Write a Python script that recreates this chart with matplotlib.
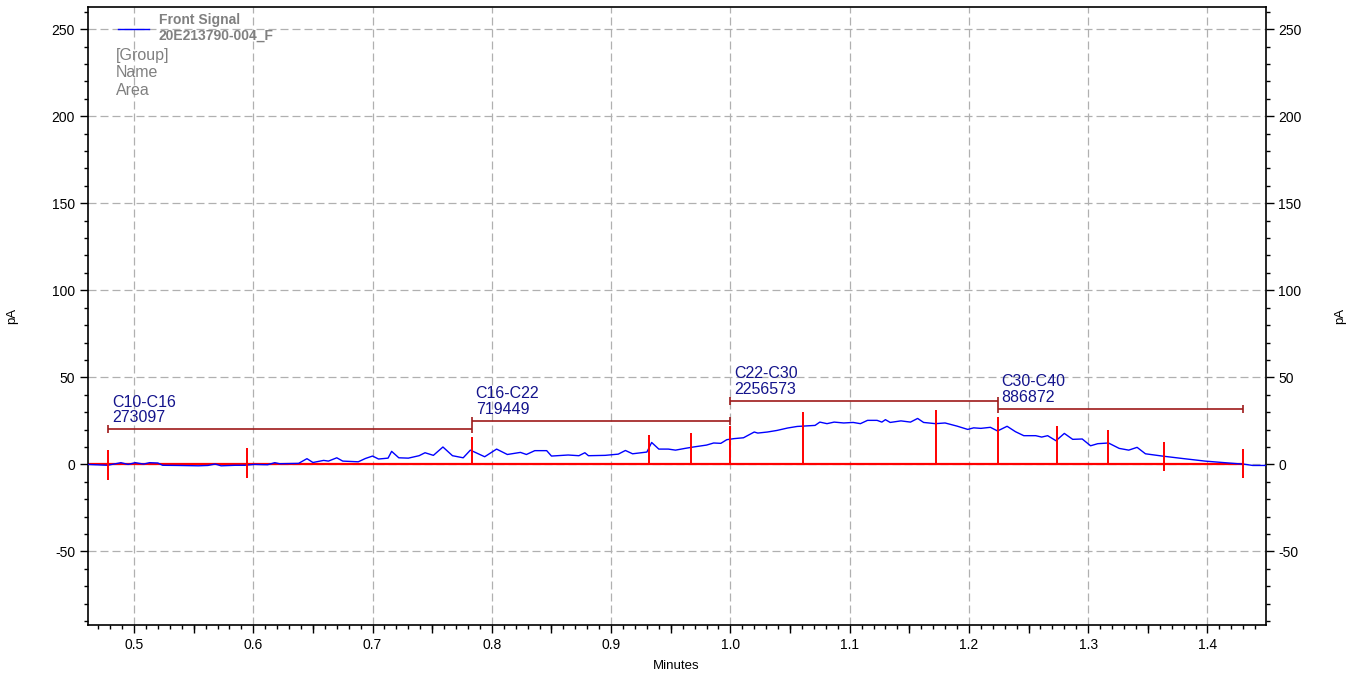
import matplotlib
matplotlib.use("Agg")
import matplotlib.pyplot as plt
import numpy as np
from matplotlib.ticker import MultipleLocator, FuncFormatter

plt.rcParams["font.family"] = ["Liberation Sans", "DejaVu Sans"]
plt.rcParams["axes.unicode_minus"] = False

# chromatogram trace (minutes, pA)
TRACE_T = [
    0.461, 0.478, 0.489, 0.495, 0.501, 0.508, 0.513, 0.520, 0.524, 0.537,
    0.554, 0.562, 0.568, 0.573, 0.585, 0.593, 0.601, 0.612, 0.618, 0.622,
    0.638, 0.645, 0.650, 0.659, 0.663, 0.670, 0.675, 0.688, 0.694, 0.700,
    0.705, 0.713, 0.716, 0.722, 0.730, 0.739, 0.744, 0.751, 0.759, 0.767,
    0.776, 0.782, 0.794, 0.804, 0.813, 0.824, 0.829, 0.836, 0.846, 0.850,
    0.864, 0.873, 0.878, 0.881, 0.895, 0.906, 0.912, 0.918, 0.930, 0.934,
    0.940, 0.948, 0.954, 0.962, 0.969, 0.980, 0.986, 0.992, 0.997, 1.003,
    1.011, 1.020, 1.023, 1.031, 1.039, 1.048, 1.056, 1.061, 1.071, 1.075,
    1.081, 1.087, 1.095, 1.103, 1.109, 1.115, 1.123, 1.127, 1.130, 1.134,
    1.143, 1.151, 1.157, 1.162, 1.172, 1.180, 1.190, 1.199, 1.204, 1.210,
    1.218, 1.224, 1.232, 1.239, 1.246, 1.256, 1.261, 1.266, 1.273, 1.280,
    1.287, 1.295, 1.302, 1.308, 1.317, 1.326, 1.334, 1.341, 1.348, 1.362,
    1.379, 1.398, 1.418, 1.431, 1.438, 1.450,
]
TRACE_PA = [
    0.0, -0.5, 1.0, 0.0, 1.0, 0.2, 1.0, 0.8, -0.5, -0.6,
    -0.8, -0.6, 0.2, -0.8, -0.5, -0.5, 0.0, -0.2, 1.0, 0.4,
    0.6, 3.3, 1.1, 2.3, 1.9, 3.8, 1.9, 1.5, 3.4, 4.8,
    3.1, 3.6, 7.5, 3.8, 3.6, 5.0, 6.7, 5.2, 10.0, 5.0,
    3.8, 8.2, 4.4, 8.8, 5.7, 6.9, 5.7, 7.9, 7.9, 4.8,
    5.4, 5.0, 6.7, 5.0, 5.2, 5.9, 8.0, 6.1, 7.1, 12.6,
    8.8, 8.8, 8.2, 9.2, 10.0, 11.1, 12.3, 12.1, 14.2, 14.8,
    15.3, 18.6, 18.0, 18.6, 19.5, 20.9, 21.8, 22.0, 22.4, 24.3,
    23.4, 24.3, 23.8, 24.1, 23.4, 25.3, 25.3, 24.3, 25.7, 24.1,
    25.0, 24.3, 26.4, 24.1, 23.4, 23.8, 22.0, 20.1, 21.0, 20.7,
    21.3, 19.2, 21.9, 18.8, 16.5, 16.5, 15.7, 16.5, 13.6, 17.8,
    14.4, 14.6, 10.7, 11.9, 12.3, 9.2, 8.2, 9.8, 6.1, 4.8,
    3.4, 1.9, 0.8, 0.1, -0.6, -0.6,
]

BASELINE_T = [0.461, 1.430]
BASELINE_PA = [0.0, 0.0]

# integration event markers
EVENT_T = [0.478, 0.595, 0.783, 0.932, 0.967, 1.000, 1.061, 1.172, 1.224, 1.2735, 1.317, 1.3635, 1.430]
EVENT_TOP = [8.0, 9.2, 15.5, 17.0, 18.0, 22.0, 30.0, 31.0, 27.0, 22.0, 20.0, 13.0, 8.6]
EVENT_BOTTOM = [-9.0, -8.0, 0.0, 0.0, 0.0, 0.0, 0.0, 0.0, 0.0, 0.0, 0.0, -3.5, -8.0]

# carbon range groups
GROUP_NAMES = ["C10-C16", "C16-C22", "C22-C30", "C30-C40"]
GROUP_AREAS = ["273097", "719449", "2256573", "886872"]
GROUP_START = [0.478, 0.783, 1.000, 1.224]
GROUP_END = [0.783, 1.000, 1.224, 1.430]
GROUP_LEVEL = [20.1, 24.9, 36.6, 32.0]

SIGNAL_NAME = "Front Signal"
SAMPLE_ID = "20E213790-004_F"
LEGEND_EXTRA = ["[Group]", "Name", "Area"]

TRACE_COLOR = "#0000ff"
EVENT_COLOR = "#ff0000"
GROUP_COLOR = "#9e1a1a"
LABEL_COLOR = "#14148c"
LEGEND_GRAY = "#808080"


def main() -> None:
    fig = plt.figure(figsize=(13.63, 6.77), dpi=100)
    ax = fig.add_axes([0.0642, 0.0761, 0.8643, 0.9136])

    ax.set_xlim(0.461, 1.4487)
    ax.set_ylim(-92.5, 262.7)

    ax.plot(BASELINE_T, BASELINE_PA, color=EVENT_COLOR, linewidth=1.6, zorder=2)
    (trace,) = ax.plot(TRACE_T, TRACE_PA, color=TRACE_COLOR, linewidth=1.0, zorder=3)
    ax.vlines(EVENT_T, EVENT_BOTTOM, EVENT_TOP, color=EVENT_COLOR, linewidth=1.4, zorder=4)

    # group brackets drawn as horizontal error bars with caps
    start = np.array(GROUP_START)
    end = np.array(GROUP_END)
    ax.errorbar((start + end) / 2, GROUP_LEVEL, xerr=(end - start) / 2, fmt="none",
                ecolor=GROUP_COLOR, elinewidth=1.2, capsize=3, capthick=1.2, zorder=5)
    for name, area, x0, lvl in zip(GROUP_NAMES, GROUP_AREAS, GROUP_START, GROUP_LEVEL):
        ax.annotate(f"{name}\n{area}", xy=(x0, lvl), xytext=(3, 3), textcoords="offset points",
                    ha="left", va="bottom", fontsize=11.5, color=LABEL_COLOR, linespacing=1.05,
                    zorder=6)

    # axes, ticks, grid
    ax.xaxis.set_major_locator(MultipleLocator(0.1))
    ax.xaxis.set_minor_locator(MultipleLocator(0.01))
    ax.xaxis.set_major_formatter(FuncFormatter(lambda v, _: f"{v:.1f}"))
    ax.yaxis.set_major_locator(MultipleLocator(50))
    ax.yaxis.set_minor_locator(MultipleLocator(10))
    ax.tick_params(axis="both", which="major", direction="out", length=6, width=1.0,
                   labelsize=10, pad=3)
    ax.tick_params(axis="both", which="minor", direction="out", length=3, width=1.0)
    ax.tick_params(axis="y", which="both", right=True, labelright=True)
    ax.grid(True, which="major", color="#b0b0b0", linewidth=0.9, linestyle=(0, (6.4, 3.2)))
    for sp in ax.spines.values():
        sp.set_linewidth(1.2)

    # medium ticks on the half-tenths
    sec = ax.secondary_xaxis("bottom")
    sec.set_xticks(np.arange(0.45, 1.45, 0.1))
    sec.tick_params(length=6, width=1.0, labelbottom=False)
    sec.spines["bottom"].set_visible(False)

    ax.set_xlabel("Minutes", fontsize=9.5)
    ax.xaxis.set_label_coords(0.5, -0.056)
    ax.set_ylabel("pA", fontsize=9.5)
    ax.yaxis.set_label_coords(-0.059, 0.5)
    ax.text(1.0633, 0.5, "pA", transform=ax.transAxes, rotation=90, fontsize=9.5,
            ha="center", va="center")

    leg = ax.legend([trace], [f"{SIGNAL_NAME}\n{SAMPLE_ID}"], loc="upper left",
                    bbox_to_anchor=(0.0259, 0.990), frameon=False, borderpad=0,
                    borderaxespad=0, handlelength=2.23, handletextpad=0.72,
                    prop={"weight": "bold", "size": 10}, labelcolor=LEGEND_GRAY)
    leg.get_texts()[0].set_linespacing(1.15)

    for label, y in zip(LEGEND_EXTRA, [0.9135, 0.8864, 0.8577]):
        ax.text(0.0242, y, label, transform=ax.transAxes, fontsize=11.5,
                color=LEGEND_GRAY, ha="left", va="baseline")

    fig.savefig("out.png", dpi=100)


if __name__ == "__main__":
    main()
